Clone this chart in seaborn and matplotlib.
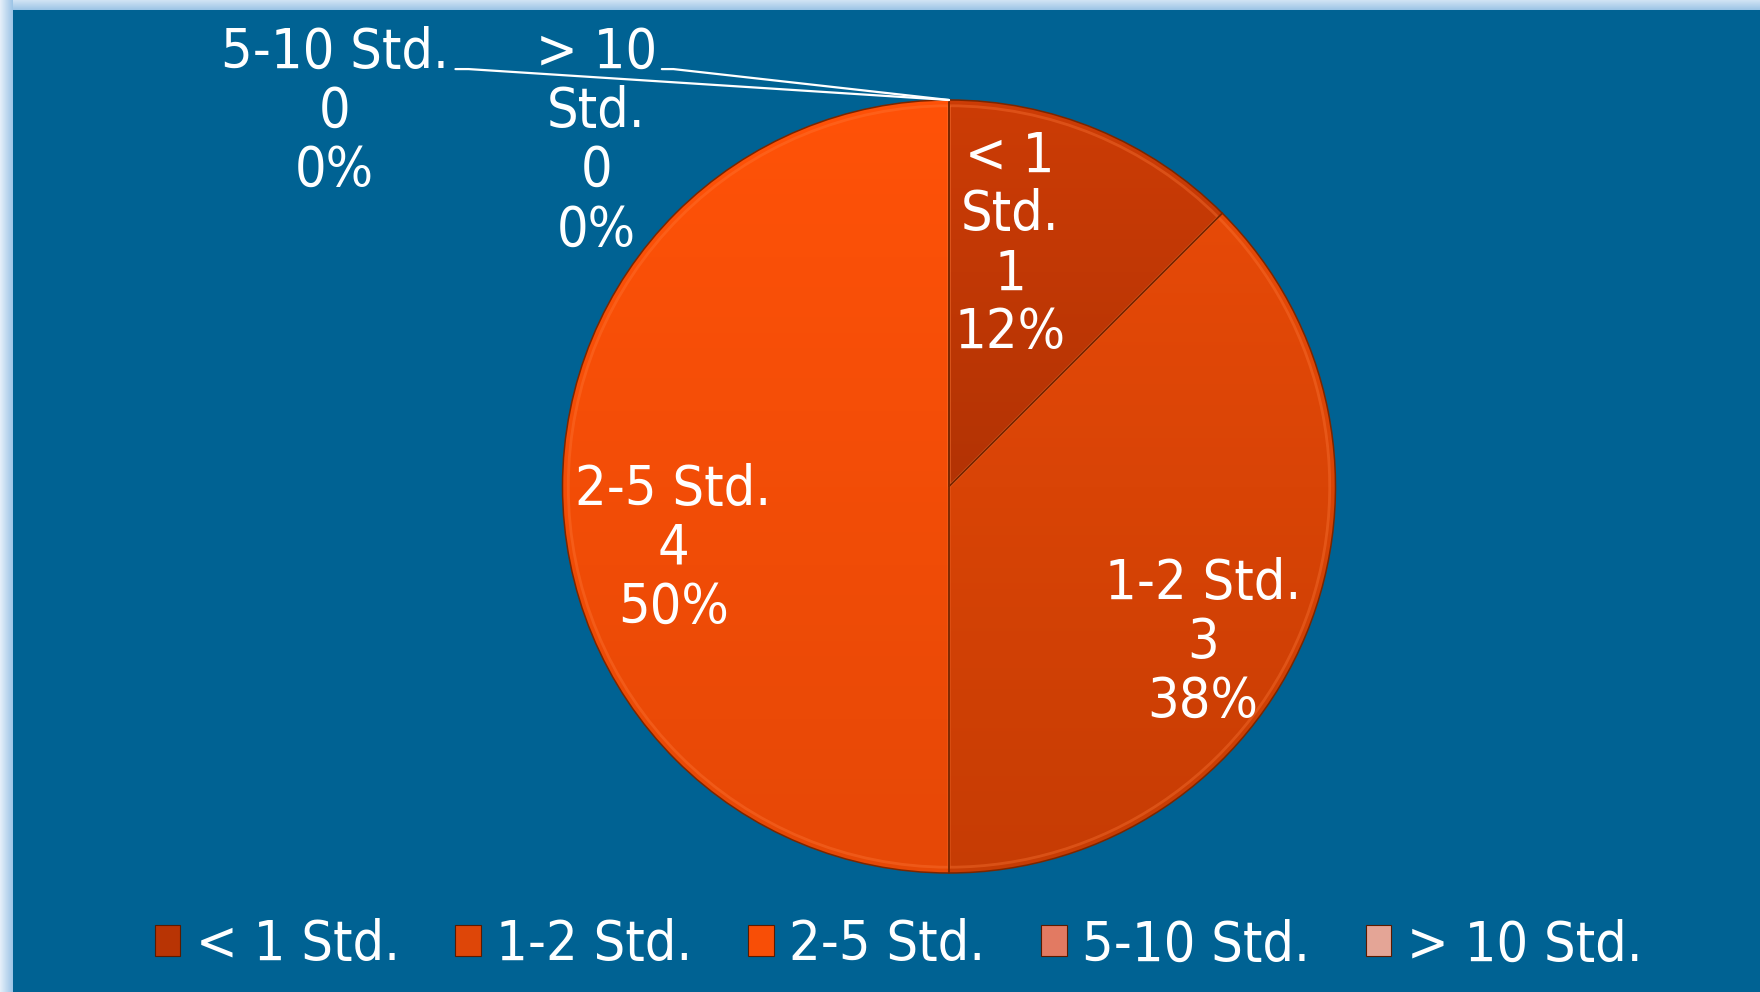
import numpy as np
import matplotlib
matplotlib.use("Agg")
import matplotlib.pyplot as plt
import seaborn as sns
from matplotlib.patches import Patch
from matplotlib.colors import LinearSegmentedColormap

# ---------------- data ----------------
categories = ["< 1 Std.", "1-2 Std.", "2-5 Std.", "5-10 Std.", "> 10 Std."]
counts = [1, 3, 4, 0, 0]
label_names = ["< 1\nStd.", "1-2 Std.", "2-5 Std.", "5-10 Std.", "> 10\nStd."]

# ---------------- style ----------------
slice_colors = ["#B83404", "#DE4608", "#F84E06", "#E27A62", "#E4A596"]
grad_top = ["#CC3C06", "#EC4C08", "#FF5208", "#E88670", "#EDB4A6"]
grad_bottom = ["#9A2A02", "#C63C04", "#E64806", "#D06A54", "#D89686"]
BG = "#006293"
FS = 40

sns.set_theme(style="white")
plt.rcParams["font.family"] = ["DejaVu Sans"]
plt.rcParams["font.stretch"] = "condensed"

W, H = 1760, 992
fig = plt.figure(figsize=(W / 100, H / 100), dpi=100)
fig.patch.set_facecolor(BG)

# light blue frame strips (top and left)
ax_top = fig.add_axes([0, 1 - 10 / H, 1, 10 / H])
ax_top.imshow(np.linspace(0, 1, 32).reshape(-1, 1), aspect="auto",
              cmap=LinearSegmentedColormap.from_list("t", ["#D2E4F4", "#9CC4E6"]),
              extent=[0, 1, 0, 1])
ax_top.axis("off")
ax_left = fig.add_axes([0, 0, 12 / W, 1])
ax_left.imshow(np.linspace(0, 1, 32).reshape(1, -1), aspect="auto",
               cmap=LinearSegmentedColormap.from_list("l", ["#E6F0FA", "#9CC4E6"]),
               extent=[0, 1, 0, 1])
ax_left.axis("off")

# pie axes
cx, cy, R = 949, 486.5, 386.5
ax = fig.add_axes([(cx - R) / W, (H - cy - R) / H, 2 * R / W, 2 * R / H])
wedges, _ = ax.pie(counts, colors=slice_colors, startangle=90, counterclock=False,
                   radius=1, wedgeprops=dict(linewidth=0))
ax.set_xlim(-1, 1)
ax.set_ylim(-1, 1)
ax.set_aspect("auto")
ax.axis("off")

# gradient shading clipped to each wedge
for i, w in enumerate(wedges):
    if counts[i] == 0:
        continue
    cmap = LinearSegmentedColormap.from_list(f"g{i}", [grad_bottom[i], grad_top[i]])
    im = ax.imshow(np.linspace(0, 1, 256).reshape(-1, 1), cmap=cmap, origin="lower",
                   extent=[-1, 1, -1, 1], aspect="auto", zorder=2)
    im.set_clip_path(w)

# bevel-like rim: light inner ring + dark outline
rim, _ = ax.pie(counts, startangle=90, counterclock=False, radius=0.985,
                wedgeprops=dict(fill=False, edgecolor="#FF7A3A", linewidth=2.0, alpha=0.35, zorder=3))
edges, _ = ax.pie(counts, startangle=90, counterclock=False, radius=1,
                  wedgeprops=dict(fill=False, edgecolor="#7A2600", linewidth=1.1, zorder=3))
ax.set_xlim(-1, 1)
ax.set_ylim(-1, 1)
ax.set_aspect("auto")

# data labels
total = sum(counts)
label_pos = [(0.158, 0.625), (0.657, -0.405), (-0.713, -0.161), (-1.590, 0.969), (-0.913, 0.892)]
for i, (x, y) in enumerate(label_pos):
    pct = round(100 * counts[i] / total)
    ax.text(x, y, f"{label_names[i]}\n{counts[i]}\n{pct}%", ha="center", va="center",
            color="white", fontsize=FS, linespacing=1.12, clip_on=False, zorder=5)

# leader lines for empty slices
leader_start = {3: (-1.277, -1.243, 1.08), 4: (-0.743, -0.713, 1.08)}
for i, (x0, x1, y0) in leader_start.items():
    ang = np.deg2rad(wedges[i].theta1)
    ax.plot([x0, x1, np.cos(ang)], [y0, y0, np.sin(ang)], color="white", lw=1.6,
            clip_on=False, zorder=4)

# legend
handles = [Patch(facecolor=c, edgecolor="#5A1A00", linewidth=0.8) for c in slice_colors]
leg = fig.legend(handles, categories, loc="center", bbox_to_anchor=(0.5105, 0.047), ncol=5,
                 frameon=False, fontsize=FS, handlelength=0.46, handleheight=0.5,
                 handletextpad=0.28, columnspacing=1.0, labelcolor="white")

fig.savefig("out.png", dpi=100, facecolor=BG)
